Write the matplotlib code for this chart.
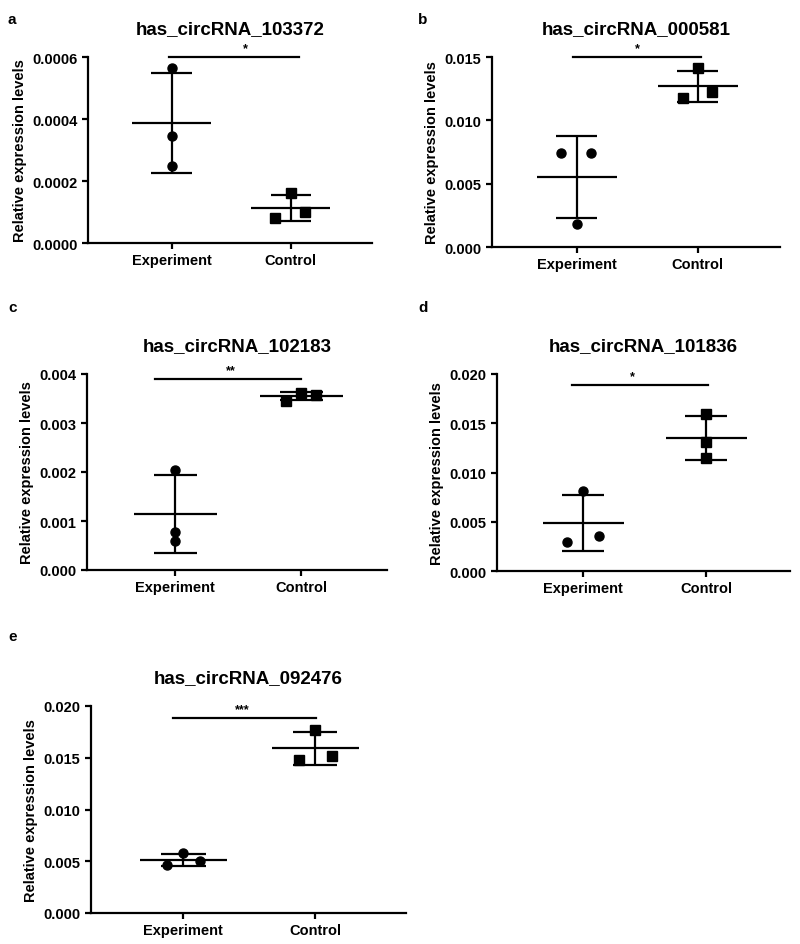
import numpy as np
import matplotlib
matplotlib.use("Agg")
from matplotlib import pyplot as plt
from matplotlib.ticker import FormatStrFormatter

plt.rcParams['font.family'] = ['Liberation Sans', 'DejaVu Sans']
plt.rcParams['font.weight'] = 'bold'

# data
panel_letters = ["a", "b", "c", "d", "e"]
titles = ["has_circRNA_103372", "has_circRNA_000581", "has_circRNA_102183",
          "has_circRNA_101836", "has_circRNA_092476"]
groups = ["Experiment", "Control"]

exp_a = [0.000565, 0.000345, 0.000250]
ctl_a = [0.000160, 0.000100, 0.000080]
exp_b = [0.0074, 0.0074, 0.0018]
ctl_b = [0.0141, 0.0118, 0.0122]
exp_c = [0.00205, 0.00077, 0.00059]
ctl_c = [0.00362, 0.00345, 0.00358]
exp_d = [0.0081, 0.0029, 0.0036]
ctl_d = [0.0159, 0.0131, 0.0115]
exp_e = [0.0058, 0.0046, 0.0050]
ctl_e = [0.0177, 0.0148, 0.0152]

experiment = [exp_a, exp_b, exp_c, exp_d, exp_e]
control = [ctl_a, ctl_b, ctl_c, ctl_d, ctl_e]

stars = ["*", "*", "**", "*", "***"]
sig_heights = [0.0006, 0.015, 0.0039, 0.0189, 0.0188]
y_max = [0.0006, 0.015, 0.004, 0.020, 0.020]
y_step = [0.0002, 0.005, 0.001, 0.005, 0.005]
y_fmt = ["%.4f", "%.3f", "%.3f", "%.3f", "%.3f"]

# horizontal jitter of the dots (per panel: experiment, control)
jit_exp = [[0, 0, 0], [-0.13, 0.12, 0], [0, 0, 0], [0, -0.13, 0.13], [0, -0.12, 0.13]]
jit_ctl = [[0, 0.12, -0.13], [0, -0.12, 0.12], [0, -0.12, 0.12], [0, 0, 0], [0, -0.12, 0.13]]
sig_span = [(-0.02, 1.07), (-0.03, 1.03), (-0.16, 1.0), (-0.09, 1.01), (-0.08, 1.01)]
star_x = [0.62, 0.5, 0.44, 0.4, 0.45]

# axes boxes in pixels: left, top, right, bottom
boxes = [(88, 58, 372, 244), (492, 58, 780, 248), (87, 375, 387, 571),
         (497, 375, 790, 572), (91, 707, 406, 914)]
letter_pos = [(8, 20), (418, 20), (8, 308), (418, 308), (8, 637)]
x_right = [1.68, 1.68, 1.68, 1.68, 1.69]

W, H = 800, 945
fig = plt.figure(figsize=(W / 100, H / 100), dpi=100)

for i in range(5):
    l, t, r, b = boxes[i]
    ax = fig.add_axes([l / W, 1 - b / H, (r - l) / W, (b - t) / H])

    for gx, vals, jit, mk in [(0, experiment[i], jit_exp[i], 'o'),
                              (1, control[i], jit_ctl[i], 's')]:
        vals = np.array(vals)
        m = vals.mean()
        sd = vals.std(ddof=1)
        ax.plot(gx + np.array(jit), vals, mk, color='black', markersize=6.5,
                zorder=3, clip_on=False)
        ax.hlines(m, gx - 0.33, gx + 0.33, color='black', lw=1.6, zorder=2)
        ax.hlines([m - sd, m + sd], gx - 0.17, gx + 0.17, color='black', lw=1.6, zorder=2)
        ax.vlines(gx, m - sd, m + sd, color='black', lw=1.6, zorder=2)

    x0, x1 = sig_span[i]
    ax.plot([x0, x1], [sig_heights[i]] * 2, color='black', lw=1.6, clip_on=False)
    ax.annotate(stars[i], (star_x[i], sig_heights[i]), xytext=(0, 2),
                textcoords='offset points', ha='center', va='bottom',
                fontsize=9, fontweight='bold')

    ax.set_xlim(-0.7, x_right[i])
    ax.set_ylim(0, y_max[i])
    ax.set_yticks(np.arange(0, y_max[i] + y_step[i] / 2, y_step[i]))
    ax.yaxis.set_major_formatter(FormatStrFormatter(y_fmt[i]))
    ax.set_xticks([0, 1])
    ax.set_xticklabels(groups)
    ax.spines['top'].set_visible(False)
    ax.spines['right'].set_visible(False)
    for s in ['left', 'bottom']:
        ax.spines[s].set_linewidth(1.6)
    ax.tick_params(width=1.6, length=4, labelsize=10.5)
    for lab in ax.get_xticklabels() + ax.get_yticklabels():
        lab.set_fontweight('bold')
    ax.set_ylabel("Relative expression levels", fontsize=10.5, fontweight='bold', labelpad=4)
    ax.set_title(titles[i], fontsize=13.5, fontweight='bold', pad=17)

    lx, ly = letter_pos[i]
    fig.text(lx / W, 1 - ly / H, panel_letters[i], fontsize=11, fontweight='bold',
             va='center', ha='left')

fig.savefig("out.png", dpi=100, facecolor='white')
